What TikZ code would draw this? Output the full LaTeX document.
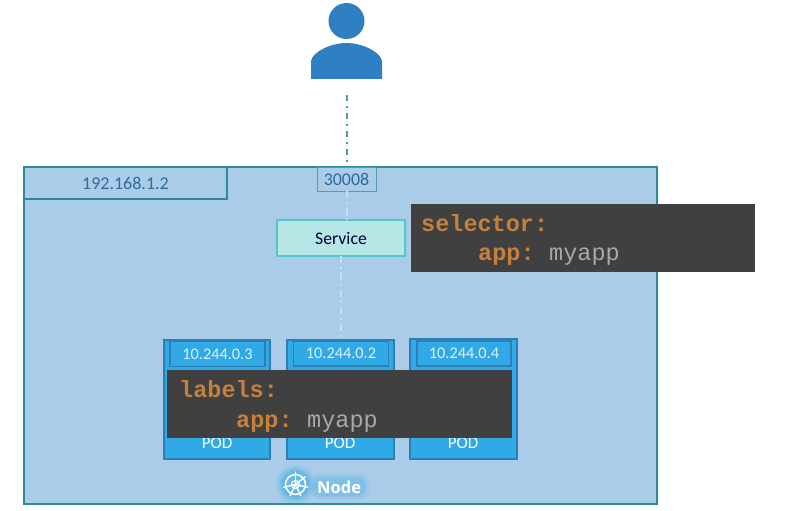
\documentclass[tikz,border=0pt]{standalone}
\usepackage{fontspec}
\setmainfont{Carlito}
\newfontfamily\codefont{Liberation Mono}
\newfontfamily\headfont{Open Sans}
\definecolor{userblue}{HTML}{2F80C2}
\definecolor{hostfill}{HTML}{AACCE8}
\definecolor{hostline}{HTML}{2B8A98}
\definecolor{podfill}{HTML}{30A9E6}
\definecolor{podline}{HTML}{2A7FB5}
\definecolor{svcfill}{HTML}{B6E6E6}
\definecolor{svcline}{HTML}{55C6CE}
\definecolor{codebg}{HTML}{404040}
\definecolor{codekey}{HTML}{C5813C}
\definecolor{codeval}{HTML}{A8A8A8}
\definecolor{darktext}{HTML}{2F6A9C}
\tikzset{
  box/.style={rectangle,inner sep=0pt,outer sep=0pt,anchor=north west},
  podbox/.style={box,draw=podline,line width=1.6pt,fill=podfill},
  ipbox/.style={box,draw=podline,line width=1.4pt,fill=podfill,
    text=white!85!cyan,font=\fontsize{16.3}{18}\selectfont,align=center},
  podlabel/.style={text=white,font=\fontsize{17}{18}\selectfont,inner sep=0pt},
  codebox/.style={box,fill=codebg},
  keytext/.style={anchor=base west,inner sep=0pt,text=codekey,font=\codefont\bfseries\fontsize{23.5}{26}\selectfont},
  valtext/.style={anchor=base west,inner sep=0pt,text=codeval,font=\codefont\fontsize{23.5}{26}\selectfont},
  linkout/.style={draw=hostline!85!white,line width=1.5pt,dash pattern=on 6pt off 5pt on 2pt off 5pt},
  linkin/.style={draw=white!70!cyan,line width=1.5pt,dash pattern=on 7pt off 4pt on 2pt off 4pt},
}
\begin{document}
\begin{tikzpicture}[x=1pt,y=-1pt]
\useasboundingbox (0,0) rectangle (790,511);
% user
\fill[userblue] (346.5,21) circle (18);
\fill[userblue] (311,79) -- (311,61) .. controls (313,51) and (332,43) .. (346.5,43)
  .. controls (361,43) and (380,51) .. (382,61) -- (382,79) -- cycle;
\coordinate (userfoot) at (347,95);
% host
\node[box,draw=hostline,line width=1.6pt,fill=hostfill,minimum width=633pt,minimum height=337pt] (host) at (24,167) {};
\node[box,draw=hostline,line width=1.6pt,fill=hostfill,minimum width=203pt,minimum height=32pt,
  text=darktext,font=\fontsize{18}{20}\selectfont] (hostip) at (24,167) {192.168.1.2};
\node[box,draw=hostline!70!hostfill,line width=1pt,fill=hostfill,minimum width=59pt,minimum height=24pt,
  text=darktext,font=\fontsize{17.9}{20}\selectfont] (port) at (317,167) {30008};
\node[box,draw=svcline,line width=1.4pt,fill=svcfill,minimum width=128pt,minimum height=36pt,
  text=black!75!blue,font=\fontsize{17.7}{20}\selectfont] (service) at (277,220) {Service};
% pods
\node[podbox,minimum width=106pt,minimum height=119pt] (pod1) at (164,340) {};
\node[podbox,minimum width=107pt,minimum height=119pt] (pod2) at (287,340) {};
\node[podbox,minimum width=107pt,minimum height=120pt] (pod3) at (410,339) {};
\node[ipbox,minimum width=95pt,minimum height=25pt] (ip1) at (170,341.5) {10.244.0.3};
\node[ipbox,minimum width=95pt,minimum height=25pt] (ip2) at (293.5,341) {10.244.0.2};
\node[ipbox,minimum width=94pt,minimum height=25pt] (ip3) at (417,341) {10.244.0.4};
\node[podlabel] (p1) at (217,443) {POD};
\node[podlabel] (p2) at (340,443) {POD};
\node[podlabel] (p3) at (463,443) {POD};
% connectors
\draw[linkout] (userfoot) -- (port.north -| userfoot);
\draw[linkin] (port.south -| userfoot) -- (service.north -| userfoot);
\draw[linkin] (service.south) -- (service.south |- pod2.north);
% code boxes
\node[codebox,minimum width=344pt,minimum height=68pt] (selbox) at (410.5,204) {};
\node[keytext] (sel) at (421,231) {selector:};
\node[keytext] (selapp) at (478,260) {app:};
\node[valtext] (selval) at (549,260) {myapp};
\node[codebox,minimum width=345pt,minimum height=68pt] (labbox) at (167,370) {};
\node[keytext] (lab) at (179,397) {labels:};
\node[keytext] (labapp) at (236,427) {app:};
\node[valtext] (labval) at (307,427) {myapp};
% node badge
\begin{scope}
\foreach \r/\o in {20/0.08,18/0.12,16/0.2,14/0.3}{
  \fill[podfill,opacity=\o] (295.5,484.5) circle (\r);
}
\foreach \g/\o in {5/0.08,3/0.12,1/0.18}{
  \fill[podfill,opacity=\o,rounded corners=8pt] (315-\g,478-\g) rectangle (364+\g,495+\g);
}
\draw[white,line width=1.5pt] (295.5,484.5) circle (10);
\draw[white,line width=1.1pt] (295.5,484.5) circle (4);
\foreach \a in {0,51.43,...,308}{
  \draw[white,line width=1.3pt,line cap=round] (295.5,484.5) -- ++(\a-90:12.5);
}
\fill[white] (295.5,484.5) circle (1.8);
\end{scope}
\node[inner sep=0pt,anchor=west,text=white,font=\headfont\bfseries\fontsize{16.5}{18}\selectfont] (nodelabel) at (317,487) {Node};
\end{tikzpicture}
\end{document}
